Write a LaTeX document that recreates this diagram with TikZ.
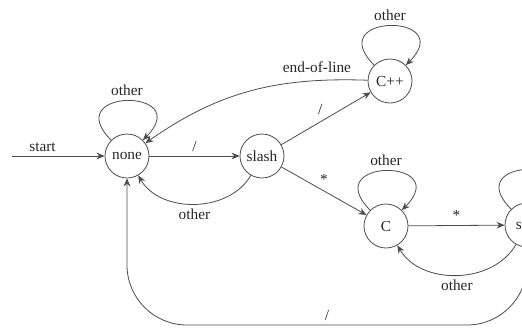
\documentclass[tikz,border=0pt]{standalone}
\usepackage{fontspec}
\setmainfont{Liberation Serif}
\usetikzlibrary{arrows.meta}
\tikzset{state/.style={circle,draw=black!70,line width=0.6pt,minimum size=33pt,inner sep=0pt},
	trans/.style={draw=black!70,line width=0.6pt,->},
	selfloop/.style={trans,looseness=6,out=135,in=45}}

\begin{document}
\begin{tikzpicture}[x=0.75pt,y=0.75pt,>={Stealth[length=6pt,width=5pt]},
	font=\fontsize{11.5}{14}\selectfont,text=black!85]
			\useasboundingbox (0,0) rectangle (522,330);
			\clip (0,0) rectangle (522,330);
			% states
			\node[state] (none) at (127,174) {none};
			\node[state] (slash) at (262,174) {slash};
			\node[state] (cpp) at (390,249) {C++};
			\node[state] (c) at (386,104) {C};
			\node[state] (star) at (527,105) {star};
			\coordinate (begin) at (12,174);
			\coordinate (sbot) at (527,5);
			% transitions
			\draw[trans] (begin) -- (none) node[pos=0.33,above] {start};
			\draw[selfloop] (none) to node[above] {other} (none);
			\draw[trans] (none) -- (slash) node[midway,above] {/};
			\draw[trans] (slash) to[bend left=60] node[below] {other} (none);
			\draw[trans] (slash) -- (cpp) node[midway,above left=-1pt] {/};
			\draw[trans] (slash) -- (c) node[midway,above=1pt] {*};
			\draw[trans] (cpp) to[out=178,in=35] node[pos=0.2,above=2pt] {end-of-line} (none);
			\draw[selfloop] (cpp) to node[above] {other} (cpp);
			\draw[selfloop] (c) to node[above] {other} (c);
			\draw[trans] (c) -- (star) node[midway,above] {*};
			\draw[trans] (star) to[bend left=60] node[below] {other} (c);
			\draw[selfloop] (star) to (star);
			\draw[trans,rounded corners=45pt] (star.south) -- (sbot) -| (none.south)
				node[pos=0.25,above] {/};
\end{tikzpicture}
\end{document}
